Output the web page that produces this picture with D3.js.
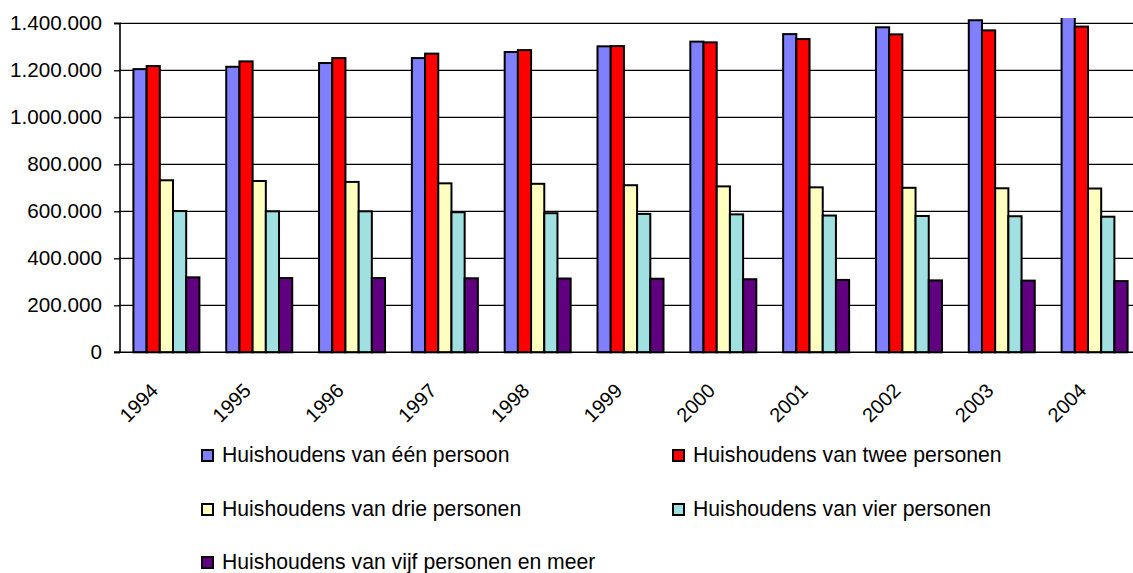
<!DOCTYPE html>
<html>
<head>
<meta charset="utf-8">
<script src="https://cdn.jsdelivr.net/npm/d3@7"></script>
<style>
  html, body { margin: 0; padding: 0; background: #fff; }
  svg { display: block; font-family: "Liberation Sans", Arial, sans-serif; }
</style>
</head>
<body>
<svg id="chart" width="1133" height="573"></svg>
<script>
const years = ["1994","1995","1996","1997","1998","1999","2000","2001","2002","2003","2004"];
const seriesNames = [
  "Huishoudens van één persoon",
  "Huishoudens van twee personen",
  "Huishoudens van drie personen",
  "Huishoudens van vier personen",
  "Huishoudens van vijf personen en meer"
];
const seriesColors = ["#8080FF", "#FF0000", "#FFFFC0", "#A0E0E0", "#600080"];
const onePerson   = [1205000,1215000,1231000,1252000,1278000,1302000,1322000,1354000,1383000,1413000,1440000];
const twoPersons  = [1218000,1238000,1252000,1271000,1286000,1303000,1319000,1333000,1353000,1370000,1386000];
const threePersons= [732000,729000,725000,719000,717000,711000,706000,702000,700000,698000,697000];
const fourPersons = [601000,600000,600000,596000,592000,589000,587000,582000,580000,579000,577000];
const fivePlus    = [319000,316000,316000,315000,314000,313000,311000,308000,306000,305000,303000];
const yTicks = [0,200000,400000,600000,800000,1000000,1200000,1400000];
const yTickLabels = ["0","200.000","400.000","600.000","800.000","1.000.000","1.200.000","1.400.000"];

const seriesValues = [onePerson, twoPersons, threePersons, fourPersons, fivePlus];

const svg = d3.select("#chart");
const plotLeft = 120, plotRight = 1141, plotTop = 18, plotBottom = 352.3;

const x = d3.scaleBand().domain(years).range([plotLeft, plotRight]).paddingInner(0.289).paddingOuter(0.1445);
const xs = d3.scaleBand().domain(seriesNames).range([0, x.bandwidth()]);
const y = d3.scaleLinear().domain([0, 1400000]).range([plotBottom, 23.3]);

// gridlines
svg.append("g").selectAll("line").data(yTicks.slice(1)).join("line")
  .attr("x1", plotLeft).attr("x2", 1133)
  .attr("y1", d => y(d)).attr("y2", d => y(d))
  .attr("stroke", "#000").attr("stroke-width", 1.3);

// y axis
const yAxis = d3.axisLeft(y).tickValues(yTicks).tickSize(6).tickPadding(12)
  .tickFormat((d, i) => yTickLabels[i]);
const ga = svg.append("g").attr("transform", `translate(${plotLeft},0)`).call(yAxis);
ga.select(".domain").attr("stroke", "#000").attr("stroke-width", 1.6)
  .attr("d", `M-6,${y(1400000)}H0V${plotBottom}H-6`);
ga.selectAll(".tick line").attr("stroke", "#000").attr("stroke-width", 1.3);
ga.selectAll(".tick text").attr("font-size", "20.7px").attr("fill", "#000")
  .attr("font-family", "Liberation Sans, Arial, sans-serif");

// clip
svg.append("clipPath").attr("id", "plotclip").append("rect")
  .attr("x", plotLeft).attr("y", plotTop).attr("width", 1133 - plotLeft).attr("height", plotBottom - plotTop + 3);

const bars = svg.append("g").attr("clip-path", "url(#plotclip)");
seriesNames.forEach((name, si) => {
  bars.append("g").selectAll("rect").data(years).join("rect")
    .attr("x", d => x(d) + xs(name))
    .attr("width", xs.bandwidth())
    .attr("y", (d, i) => y(seriesValues[si][i]))
    .attr("height", (d, i) => plotBottom - y(seriesValues[si][i]))
    .attr("fill", seriesColors[si])
    .attr("stroke", "#000").attr("stroke-width", 2);
});

// baseline
svg.append("line").attr("x1", plotLeft - 6).attr("x2", 1133)
  .attr("y1", plotBottom).attr("y2", plotBottom).attr("stroke", "#000").attr("stroke-width", 1.6);

// x labels
svg.append("g").selectAll("text").data(years).join("text")
  .attr("transform", d => `translate(${x(d) + x.bandwidth() / 2 - 7},392) rotate(-45)`)
  .attr("text-anchor", "end")
  .attr("font-size", "20px").attr("fill", "#000")
  .text(d => d);

// legend
const legendPos = [[201, 462], [672, 462], [201, 516], [672, 516], [201, 569]];
const lg = svg.append("g");
seriesNames.forEach((name, i) => {
  const [lx, ly] = legendPos[i];
  lg.append("rect").attr("x", lx + 1).attr("y", ly - 12).attr("width", 11).attr("height", 11)
    .attr("fill", seriesColors[i]).attr("stroke", "#000").attr("stroke-width", 2);
  lg.append("text").attr("x", lx + 21).attr("y", ly)
    .attr("font-size", "21.2px").attr("fill", "#000").text(name);
});
</script>
</body>
</html>
